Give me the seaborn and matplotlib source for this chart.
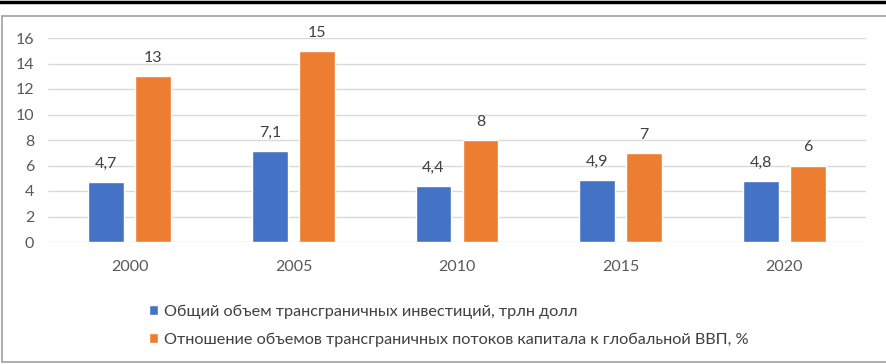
import matplotlib as mpl
import matplotlib.pyplot as plt
import pandas as pd
import seaborn as sns
from matplotlib.lines import Line2D

mpl.use("agg")
sns.set_theme()
sns.set_style("white")
plt.rcParams["font.family"] = ["Lato", "DejaVu Sans"]

years = ["2000", "2005", "2010", "2015", "2020"]
investments = [4.7, 7.1, 4.4, 4.9, 4.8]
flows_share = [13, 15, 8, 7, 6]
series_names = [
    "Общий объем трансграничных инвестиций, трлн долл",
    "Отношение объемов трансграничных потоков капитала к глобальной ВВП, %",
]
colors = ["#4472C4", "#ED7D31"]

data = pd.DataFrame({
    "year": years * 2,
    "value": investments + flows_share,
    "series": [series_names[0]] * len(years) + [series_names[1]] * len(years),
})

W, H = 887, 364
FS = 11.5
fig = plt.figure(figsize=(W / 100, H / 100), dpi=100)
ax = fig.add_axes([48 / W, 1 - 242 / H, (866 - 48) / W, 204 / H])

sns.barplot(
    data=data,
    x="year",
    y="value",
    hue="series",
    hue_order=series_names,
    palette=colors,
    width=0.575,
    gap=0.24,
    saturation=1,
    ax=ax,
)

for cont in ax.containers:
    labels = [f"{b.get_height():g}".replace(".", ",") for b in cont]
    ax.bar_label(cont, labels=labels, padding=8, fontsize=FS, color="#404040")

ax.set_ylim(0, 16)
ax.set_yticks(range(0, 17, 2))
ax.set_xlabel("")
ax.set_ylabel("")
ax.grid(axis="y", color="#D9D9D9", linewidth=1)
ax.set_axisbelow(True)
sns.despine(ax=ax, left=True, bottom=True)
ax.tick_params(axis="y", length=0, pad=10, labelsize=FS, labelcolor="#595959")
ax.tick_params(axis="x", length=0, pad=13, labelsize=FS, labelcolor="#595959")

handles, labels = ax.get_legend_handles_labels()
ax.get_legend().remove()
fig.legend(
    handles,
    labels,
    loc="upper left",
    bbox_to_anchor=(134 / W, 1 - 290 / H),
    frameon=False,
    fontsize=11.7,
    labelcolor="#404040",
    handlelength=0.55,
    handleheight=0.55,
    handletextpad=0.4,
    labelspacing=0.85,
)

# frame around the chart and thick rule at the top
fig.add_artist(Line2D([0, 1], [1 - 1.5 / H, 1 - 1.5 / H], color="black", linewidth=2.5))
gray = "#A0A0A0"
fig.add_artist(Line2D([2 / W, 1], [1 - 16 / H, 1 - 16 / H], color=gray, linewidth=1.2))
fig.add_artist(Line2D([2 / W, 1], [1 - 362 / H, 1 - 362 / H], color=gray, linewidth=1.2))
fig.add_artist(Line2D([2 / W, 2 / W], [1 - 362 / H, 1 - 16 / H], color=gray, linewidth=1.2))

plt.savefig("out.png", dpi=100)
